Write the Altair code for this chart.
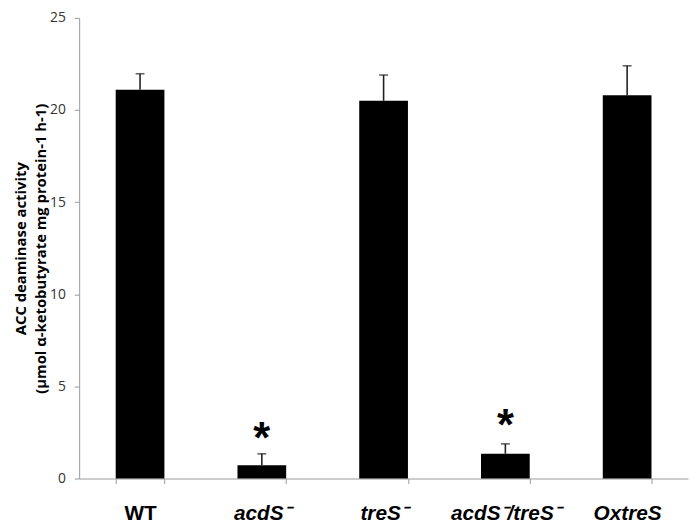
import altair as alt
import pandas as pd

categories = ["WT", "acdS⁻", "treS⁻", "acdS⁻/treS⁻", "OxtreS"]
values = [21.1, 0.72, 20.5, 1.34, 20.8]
errors = [0.87, 0.62, 1.4, 0.54, 1.6]
star_cats = ["acdS⁻", "acdS⁻/treS⁻"]
star_pos = [2.6, 3.3]

df = pd.DataFrame({"cat": categories, "val": values, "err": errors})
df["top"] = df["val"] + df["err"]
sdf = pd.DataFrame({"cat": star_cats, "y": star_pos, "t": ["*", "*"]})

xenc = alt.X("cat:N", sort=categories, title=None,
             scale=alt.Scale(paddingInner=0.6, paddingOuter=0.3),
             axis=alt.Axis(labelAngle=0, labelFontSize=21, labelFontWeight="bold",
                           labelFont="Liberation Sans", labelColor="#000",
                           labelFontStyle={"expr": "datum.value == 'WT' ? 'normal' : 'italic'"},
                           labelBaseline="alphabetic", labelPadding=36,
                           tickBand="extent", tickSize=5,
                           tickColor="#999", domainColor="#999", grid=False))
yscale = alt.Scale(domain=[0, 25], nice=False)
yaxis = alt.Axis(values=[0, 5, 10, 15, 20, 25], labelFontSize=14, labelColor="#333",
                 labelFont="Open Sans", tickColor="#999", domainColor="#999",
                 tickSize=5, grid=False, labelPadding=9,
                 title=["ACC deaminase activity", "(µmol α-ketobutyrate mg protein-1 h-1)"],
                 titleFontSize=15, titleFontWeight="bold", titleFont="Open Sans",
                 titleColor="#000", titlePadding=1, titleLineHeight=20)

bars = alt.Chart(df).mark_bar(color="#000").encode(
    x=xenc, y=alt.Y("val:Q", scale=yscale, axis=yaxis))
rules = alt.Chart(df).mark_rule(color="#222", strokeWidth=1.6).encode(
    x=alt.X("cat:N", sort=categories), y="val:Q", y2="top:Q")
caps = alt.Chart(df).mark_tick(color="#222", thickness=1.6, size=9, orient="horizontal").encode(
    x=alt.X("cat:N", sort=categories), y="top:Q")
stars = alt.Chart(sdf).mark_text(fontSize=44, fontWeight="bold", font="Liberation Sans",
                                 baseline="middle", dy=10).encode(
    x=alt.X("cat:N", sort=categories), y="y:Q", text="t:N")

chart = alt.layer(bars, rules, caps, stars).properties(
    width=616, height=466,
    autosize=alt.AutoSizeParams(type="none"),
    padding={"left": 72, "top": 7, "right": 2, "bottom": 43},
).configure_view(stroke=None)

chart.save("out.html", embed_options={"renderer": "svg", "actions": False})
